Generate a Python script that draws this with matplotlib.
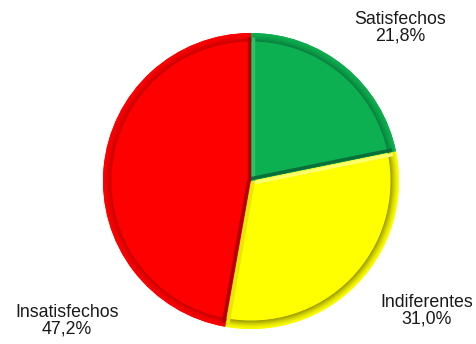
import numpy as np
import matplotlib
matplotlib.use("Agg")
import matplotlib.pyplot as plt
from matplotlib.patches import Wedge
from matplotlib.colors import to_rgb

categories = ["Satisfechos", "Indiferentes", "Insatisfechos"]
values = [21.8, 31.0, 47.2]
labels = ["Satisfechos\n21,8%", "Indiferentes\n31,0%", "Insatisfechos\n47,2%"]

base_colors = ["#0DB050", "#FFFF00", "#FF0000"]
rim_colors = ["#0A7F3E", "#9A9A00", "#C80000"]
start_edge = ["#2CC26C", "#FFFF70", "#B00000"]
end_edge = ["#0A6E38", "#E8E800", "#B00000"]

W, H = 477, 344
fig = plt.figure(figsize=(W / 100, H / 100), dpi=100)
cx, cy, r = 251, 163, 148
ax = fig.add_axes([(cx - r) / W, (cy - r) / H, 2 * r / W, 2 * r / H])

wedges, _ = ax.pie(values, colors=base_colors, startangle=90,
                   counterclock=False, radius=1.0,
                   wedgeprops=dict(linewidth=0))
ax.set_xlim(-1, 1)
ax.set_ylim(-1, 1)
ax.set_aspect("equal")
ax.axis("off")

n_steps = 14
r_in = 0.945
for i, w in enumerate(wedges):
    t1, t2 = w.theta1, w.theta2
    c0 = np.array(to_rgb(base_colors[i]))
    c1 = np.array(to_rgb(rim_colors[i]))
    # outer bevel: smooth darkening towards the rim
    for k in range(n_steps):
        f = (k + 1) / n_steps
        rr_out = 1.0 - (1.0 - r_in) * k / n_steps
        col = c0 + (c1 - c0) * f ** 1.6
        ax.add_patch(Wedge((0, 0), rr_out, t1, t2,
                           width=(1.0 - r_in) / n_steps + 0.002,
                           facecolor=np.clip(col, 0, 1), linewidth=0))
    # radial bevel strips along both straight edges
    for ang, col, sgn in ((t2, start_edge[i], -1), (t1, end_edge[i], 1)):
        a = np.deg2rad(ang)
        d = np.array([np.cos(a), np.sin(a)])
        n = np.array([-np.sin(a), np.cos(a)]) * sgn * 0.016
        p0 = n
        p1 = d * 0.975 + n
        ax.plot([p0[0], p1[0]], [p0[1], p1[1]], color=col,
                linewidth=2.4, solid_capstyle="butt")

text_pos = [(400, 28), (427, 311), (67, 321)]
for (x, y), lab in zip(text_pos, labels):
    fig.text(x / W, 1 - y / H, lab, ha="center", va="center",
             fontsize=12.8, family="Liberation Sans", color="#1a1a1a",
             linespacing=0.98)

fig.savefig("out.png", dpi=100)
